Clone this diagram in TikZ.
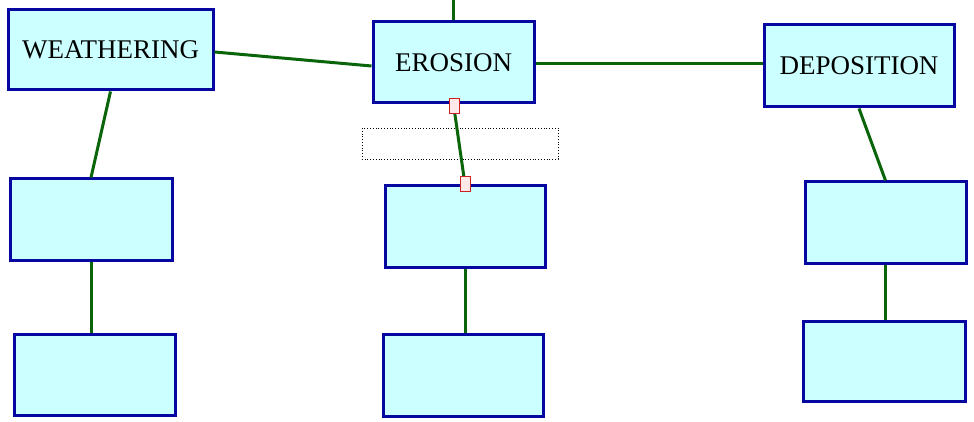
\documentclass[tikz,border=0pt]{standalone}
\usepackage{fontspec}
\setmainfont{Liberation Serif}
\definecolor{boxfill}{HTML}{CCFFFF}
\definecolor{boxline}{HTML}{0606A0}
\definecolor{conn}{HTML}{0A640A}
\definecolor{handle}{HTML}{CC2222}
\definecolor{handlefill}{HTML}{FFE8E8}
\tikzset{
  conceptbox/.style={draw=boxline, line width=3pt, fill=boxfill, rectangle, inner sep=0pt,
    font=\fontsize{27}{30}\selectfont, text height=18pt, text depth=0pt},
  link/.style={draw=conn, line width=3pt},
  handlebox/.style={draw=handle, fill=handlefill, line width=1pt, rectangle, inner sep=0pt,
    minimum width=10pt, minimum height=15pt},
  selbox/.style={draw=black, dotted, line width=0.8pt}
}
\begin{document}
\begin{tikzpicture}[x=1pt,y=-1pt]
\useasboundingbox (0,0) rectangle (974,422);
\fill[white] (0,0) rectangle (974,422);
% selection box
\draw[selbox] (362,128) rectangle (558,159);
% boxes
\node[conceptbox, minimum width=205pt, minimum height=80pt] (w) at (110.5,50) {WEATHERING};
\node[conceptbox, minimum width=161pt, minimum height=81pt] (e) at (453.5,62.5) {EROSION};
\node[conceptbox, minimum width=190pt, minimum height=82pt] (d) at (859,66) {DEPOSITION};
\node[conceptbox, minimum width=162pt, minimum height=81pt] (l2) at (91,219.5) {};
\node[conceptbox, minimum width=161pt, minimum height=81pt] (l3) at (94.5,374.5) {};
\node[conceptbox, minimum width=160pt, minimum height=81pt] (m2) at (465,226.5) {};
\node[conceptbox, minimum width=160pt, minimum height=82pt] (m3) at (463,375) {};
\node[conceptbox, minimum width=161pt, minimum height=81pt] (r2) at (885.5,222.5) {};
\node[conceptbox, minimum width=162pt, minimum height=80pt] (r3) at (884,361) {};
\coordinate (top) at (453.5,0);
% connectors
\draw[link] ([yshift=-2pt]w.east) -- ([yshift=-3.5pt]e.west);
\draw[link] ([yshift=-1.5pt]e.east) -- ([yshift=2pt]d.west);
\draw[link] (top) -- (e.north);
\draw[link] (w.south) -- (l2.north);
\draw[link] (l2.south) -- (l2.south |- l3.north);
\draw[link] (e.south) -- (m2.north);
\draw[link] (m2.south) -- (m2.south |- m3.north);
\draw[link] (d.south) -- (r2.north);
\draw[link] (r2.south) -- (r2.south |- r3.north);
% handles
\node[handlebox] (h1) at (454,106.5) {};
\node[handlebox] (h2) at (465.5,184.5) {};
\end{tikzpicture}
\end{document}
